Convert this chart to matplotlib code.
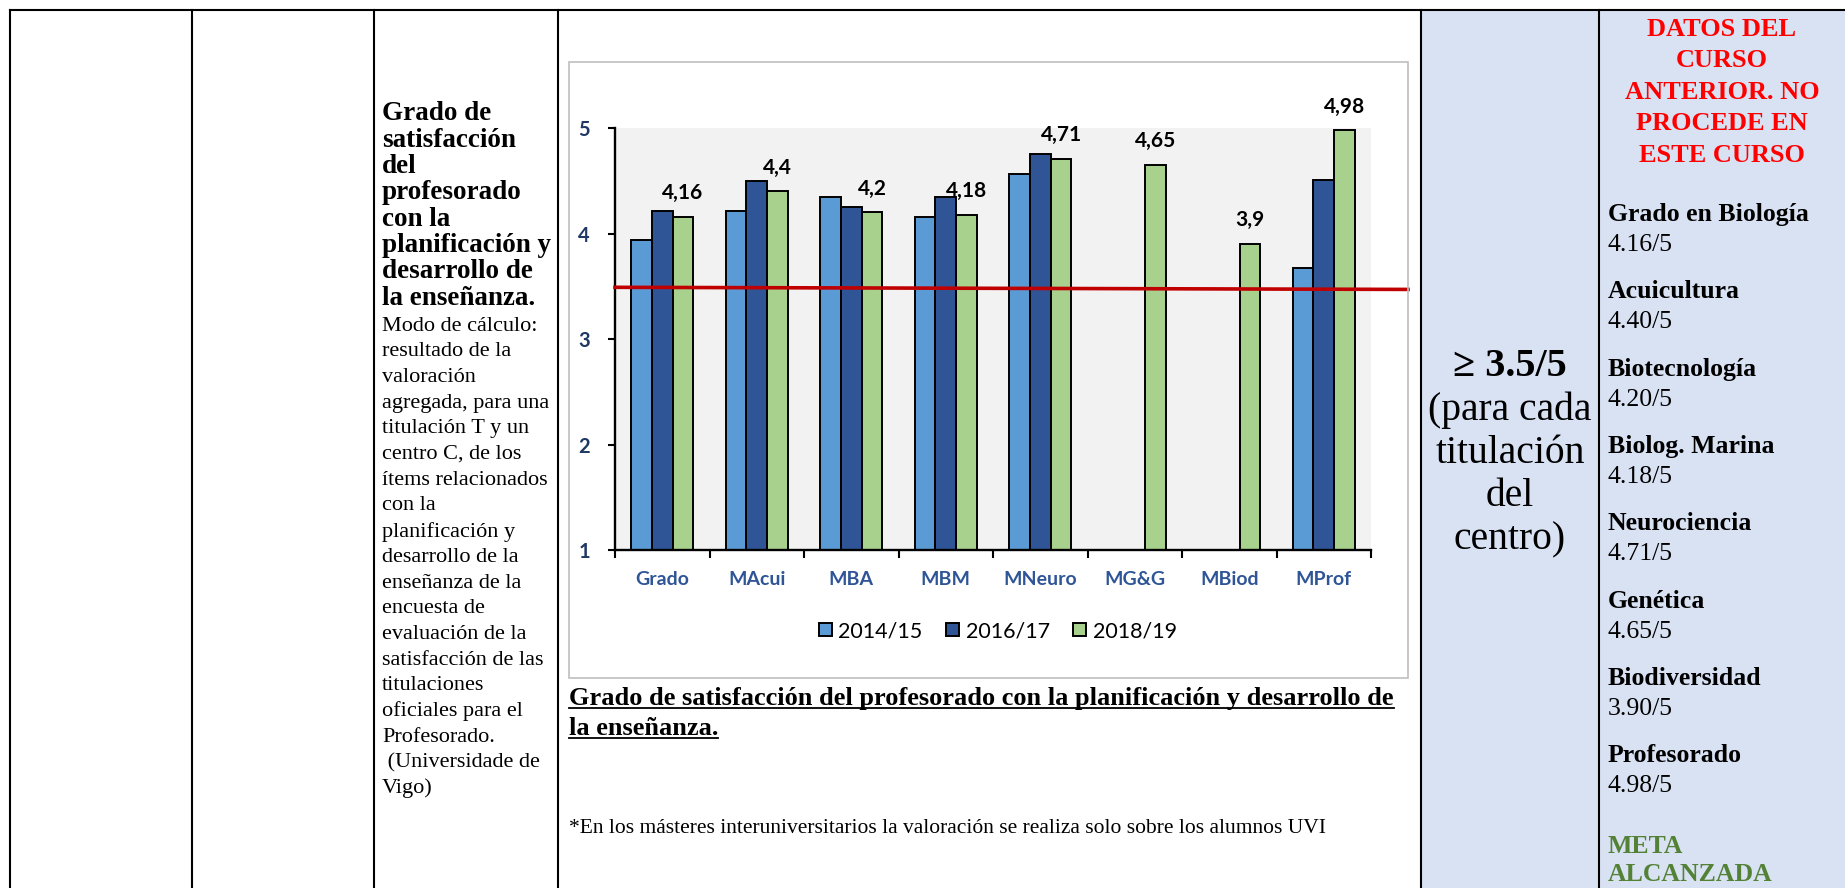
import numpy as np
import matplotlib
matplotlib.use("Agg")
import matplotlib.pyplot as plt
import matplotlib.transforms as mtransforms
from matplotlib.patches import Rectangle
from matplotlib.lines import Line2D

W, H = 1845, 888

# --- chart data ---
categories = ["Grado", "MAcui", "MBA", "MBM", "MNeuro", "MG&G", "MBiod", "MProf"]
years = ["2014/15", "2016/17", "2018/19"]
v_2014 = [3.94, 4.21, 4.35, 4.16, 4.56, np.nan, np.nan, 3.67]
v_2016 = [4.21, 4.50, 4.25, 4.35, 4.75, np.nan, np.nan, 4.51]
v_2018 = [4.16, 4.40, 4.20, 4.18, 4.71, 4.65, 3.90, 4.98]
umbral = [3.49, 3.47]   # red target line, left and right end
colors = ["#5B9BD5", "#2F5597", "#A9D18E"]

# --- table text ---
heading = ["Grado de", "satisfacción", "del", "profesorado", "con la",
           "planificación y", "desarrollo de", "la enseñanza."]
calculo = ["Modo de cálculo:", "resultado de la", "valoración", "agregada, para una",
           "titulación T y un", "centro C, de los", "ítems relacionados", "con la",
           "planificación y", "desarrollo de la", "enseñanza de la", "encuesta de",
           "evaluación de la", "satisfacción de las", "titulaciones", "oficiales para el",
           "Profesorado.", " (Universidade de", "Vigo)"]
meta_lines = ["(para cada", "titulación", "del", "centro)"]
aviso = ["DATOS DEL", "CURSO", "ANTERIOR. NO", "PROCEDE EN", "ESTE CURSO"]
titulaciones = ["Grado en Biología", "Acuicultura", "Biotecnología", "Biolog. Marina",
                "Neurociencia", "Genética", "Biodiversidad", "Profesorado"]
caption = ["Grado de satisfacción del profesorado con la planificación y desarrollo de",
           "la enseñanza."]
footnote = "*En los másteres interuniversitarios la valoración se realiza solo sobre los alumnos UVI"

plt.rcParams['font.family'] = ['Lato', 'DejaVu Sans']
SERIF = ['Liberation Serif', 'DejaVu Serif']

fig = plt.figure(figsize=(W / 100, H / 100), dpi=100)


def fx(x):
    return x / W


def fy(y):
    return 1 - y / H


def ftxt(x, y, s, **kw):
    return fig.text(fx(x), fy(y), s, **kw)


# table background and lines
fig.patches.append(Rectangle((fx(1421), 0), fx(W - 1421), (H - 10) / H,
                             transform=fig.transFigure, facecolor="#D9E2F3",
                             edgecolor="none", zorder=0))
fig.lines.append(Line2D([fx(10), 1], [fy(10), fy(10)], transform=fig.transFigure,
                        color="black", lw=1.5))
for xl in [10, 192, 374, 558, 1421, 1599]:
    fig.lines.append(Line2D([fx(xl), fx(xl)], [fy(10), 0], transform=fig.transFigure,
                            color="black", lw=1.5))

# chart frame
fig.patches.append(Rectangle((fx(569), fy(678)), fx(1408 - 569), (678 - 62) / H,
                             transform=fig.transFigure, fill=False,
                             edgecolor="#BFBFBF", lw=1.2, zorder=1))

# --- bar chart ---
ax = fig.add_axes([fx(615), fy(550), fx(1371 - 615), (550 - 128) / H])
ax.set_facecolor("#F2F2F2")
x = np.arange(len(categories))
w = 0.22
for k, vals in enumerate([v_2014, v_2016, v_2018]):
    vals = np.array(vals)
    m = ~np.isnan(vals)
    ax.bar(x[m] + (k - 1) * w, vals[m], w, color=colors[k], edgecolor="black",
           linewidth=1.4, label=years[k], zorder=2)

for xi, v in zip(x, v_2018):
    ax.annotate(str(v).replace(".", ","), (xi + w, v), xytext=(0, 17),
                textcoords="offset points", ha="center", va="center",
                fontsize=15, fontweight="bold", color="black")

ax.set_xlim(-0.5, len(categories) - 0.5)
ax.set_ylim(1, 5)
ax.set_yticks([1, 2, 3, 4, 5])
ax.set_yticklabels(["1", "2", "3", "4", "5"], fontsize=14.5, fontweight="bold", color="#1F3864")
ax.set_xticks(x)
ax.set_xticklabels(categories, fontsize=14, fontweight="bold", color="#2F5597")
ax.set_xticks(np.arange(-0.5, len(categories)), minor=True)
ax.tick_params(axis="x", which="major", length=0, pad=15)
ax.tick_params(axis="x", which="minor", length=6, width=1.5, direction="out")
ax.tick_params(axis="y", length=5, width=1.5, direction="out", pad=13)
for s in ["top", "right"]:
    ax.spines[s].set_visible(False)
for s in ["left", "bottom"]:
    ax.spines[s].set_linewidth(1.7)
    ax.spines[s].set_zorder(3)

trans = mtransforms.blended_transform_factory(ax.transAxes, ax.transData)
ax.plot([0, (1408 - 615) / (1371 - 615)], umbral, transform=trans, color="#C00000",
        lw=2.6, clip_on=False, zorder=4)

fig.legend(loc="center", bbox_to_anchor=(fx(998), fy(631)), ncol=3, frameon=False,
           fontsize=15.5, handlelength=0.6, handleheight=0.6, handletextpad=0.3,
           columnspacing=1.1)

# --- column 3 text ---
for i, s in enumerate(heading):
    ftxt(382, 114 + i * 26.3, s, family=SERIF, fontsize=19.5, fontweight="bold", va="center")
for i, s in enumerate(calculo):
    ftxt(382, 326 + i * 25.7, s, family=SERIF, fontsize=16, va="center")

# --- caption and footnote under the chart ---
fig.canvas.draw()
renderer = fig.canvas.get_renderer()
for i, s in enumerate(caption):
    base = 705.5 + i * 29.5
    t = ftxt(569, base, s, family=SERIF, fontsize=19, fontweight="bold", va="baseline")
    bb = t.get_window_extent(renderer)
    fig.lines.append(Line2D([bb.x0 / W, bb.x1 / W], [fy(base + 2.5)] * 2,
                            transform=fig.transFigure, color="black", lw=1.3))
ftxt(569, 828, footnote, family=SERIF, fontsize=15.5, va="center")

# --- target column ---
ftxt(1510, 367, "≥ 3.5/5", family=SERIF, fontsize=29, fontweight="bold",
     ha="center", va="center")
for i, s in enumerate(meta_lines):
    ftxt(1510, 410.5 + i * 43, s, family=SERIF, fontsize=28.5, ha="center", va="center")

# --- previous-year data column ---
for i, s in enumerate(aviso):
    ftxt(1722, 29 + i * 31.5, s, family=SERIF, fontsize=19, fontweight="bold",
         color="#FF0000", ha="center", va="center")
for i, (s, v) in enumerate(zip(titulaciones, v_2018)):
    y0 = 214.5 + i * 77.3
    ftxt(1608, y0, s, family=SERIF, fontsize=18.5, fontweight="bold", va="center")
    ftxt(1608, y0 + 30.5, f"{v:.2f}/5", family=SERIF, fontsize=18.5, va="center")
ftxt(1608, 846, "META", family=SERIF, fontsize=18.5, fontweight="bold", color="#538135", va="center")
ftxt(1608, 874, "ALCANZADA", family=SERIF, fontsize=18.5, fontweight="bold", color="#538135", va="center")

fig.savefig("out.png", dpi=100)
